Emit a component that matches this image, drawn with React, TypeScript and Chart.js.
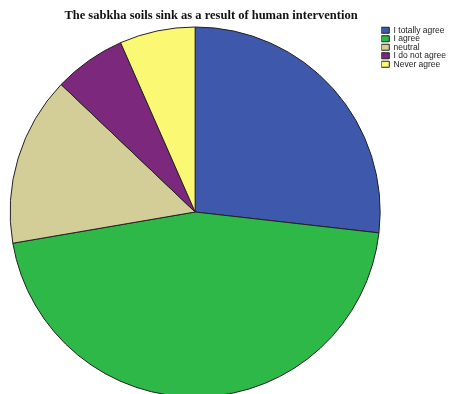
import React, { useEffect, useRef } from "react";
import { Chart, registerables } from "chart.js";

Chart.register(...registerables);

const TITLE = "The sabkha soils sink as a result of human intervention";
const categories = ["I totally agree", "I agree", "neutral", "I do not agree", "Never agree"];
const values = [26.8, 45.5, 14.8, 6.3, 6.6];
const colors = ["#3E58AC", "#2EB848", "#D3CE97", "#7C287D", "#FBF873"];

const titleShift = {
  id: "titleShift",
  afterLayout(chart: any) {
    const t = chart.titleBlock;
    if (t) {
      t.left = 0;
      t.right = 422;
      t.width = 422;
    }
  },
};

export default function App() {
  const ref = useRef<HTMLCanvasElement>(null);
  useEffect(() => {
    document.body.style.margin = "0";
    document.body.style.overflow = "hidden";
    const chart = new Chart(ref.current!, {
      type: "pie",
      data: {
        labels: categories,
        datasets: [
          {
            data: values,
            backgroundColor: colors,
            borderColor: "#222222",
            borderWidth: 1,
          },
        ],
      },
      plugins: [titleShift],
      options: {
        responsive: false,
        animation: false,
        radius: 185,
        layout: { padding: { left: 9, right: -7, top: 0, bottom: 0 } },
        plugins: {
          title: {
            display: true,
            text: TITLE,
            font: { family: "Liberation Serif", size: 12.5, weight: "bold" },
            color: "#111",
            padding: { top: 8.5, bottom: 2.5 },
          },
          legend: {
            position: "right",
            align: "start",
            fullSize: false,
            labels: {
              boxWidth: 8,
              boxHeight: 6,
              padding: 0,
              font: { family: "Liberation Sans", size: 8.5 },
              color: "#222",
            },
          },
          tooltip: { enabled: false },
        },
      },
    });
    return () => chart.destroy();
  }, []);
  return <canvas ref={ref} width={449} height={398} style={{ display: "block" }} />;
}
